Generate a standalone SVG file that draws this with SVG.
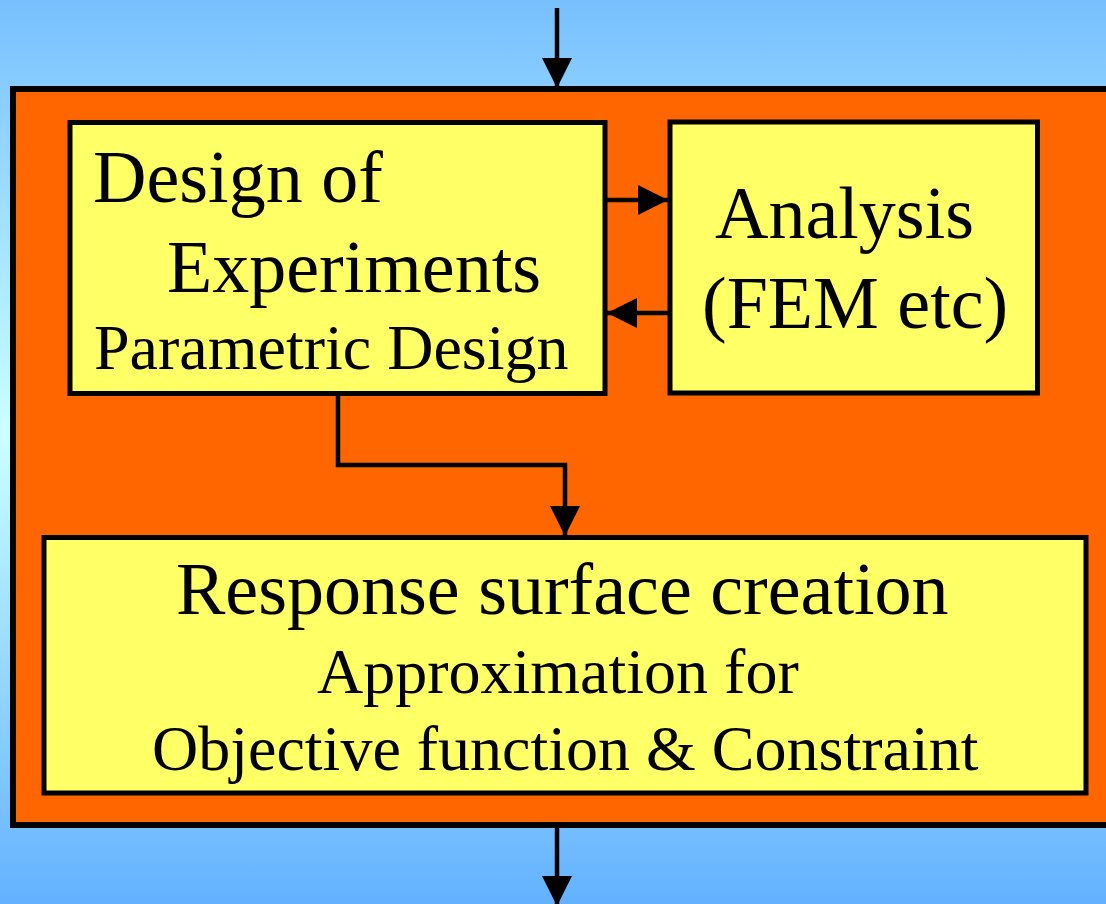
<svg xmlns="http://www.w3.org/2000/svg" width="1106" height="904" viewBox="0 0 1106 904">
  <defs>
    <linearGradient id="sky" x1="0" y1="0" x2="0" y2="1">
      <stop offset="0" stop-color="#77c0fe"/>
      <stop offset="0.48" stop-color="#ccffff"/>
      <stop offset="1" stop-color="#63b1ff"/>
    </linearGradient>
    <marker id="head" viewBox="0 0 30 30" refX="30" refY="15" markerWidth="30" markerHeight="30" markerUnits="userSpaceOnUse" orient="auto">
      <path d="M0,0 L30,15 L0,30 Z" fill="#000"/>
    </marker>
  </defs>
  <style>
    .frame { fill: #ff6600; stroke: #000; stroke-width: 6; }
    .box { fill: #ffff66; stroke: #000; stroke-width: 5; }
    .wire { fill: none; stroke: #000; stroke-width: 4.5; marker-end: url(#head); }
    text { font-family: "Liberation Serif", "Times New Roman", serif; fill: #000; }
    .big { font-size: 74px; }
    .small { font-size: 64px; }
  </style>

  <rect width="1106" height="904" fill="url(#sky)"/>

  <g id="frame">
    <rect class="frame" x="13" y="89" width="1110" height="736"/>
  </g>

  <g id="connectors">
    <path class="wire" d="M557,8 V88"/>
    <path class="wire" d="M557,828 V906"/>
    <path class="wire" d="M606,200 H668"/>
    <path class="wire" d="M668,313 H607"/>
    <path class="wire" d="M338,396 V465 H565 V536"/>
  </g>

  <g id="doe">
    <rect class="box" x="70" y="122.5" width="535" height="271"/>
    <text class="big" x="93" y="202">Design of</text>
    <text class="big" x="167" y="292">Experiments</text>
    <text class="small" x="94" y="369">Parametric Design</text>
  </g>

  <g id="analysis">
    <rect class="box" x="670" y="122" width="367.5" height="271"/>
    <text class="big" x="715" y="238">Analysis</text>
    <text class="big" x="702" y="328">(FEM etc)</text>
  </g>

  <g id="response">
    <rect class="box" x="44" y="537.5" width="1042" height="255.5"/>
    <text class="big" x="176" y="614">Response surface creation</text>
    <text class="small" x="317" y="693">Approximation for</text>
    <text class="small" x="152" y="770">Objective function &amp; Constraint</text>
  </g>
</svg>
